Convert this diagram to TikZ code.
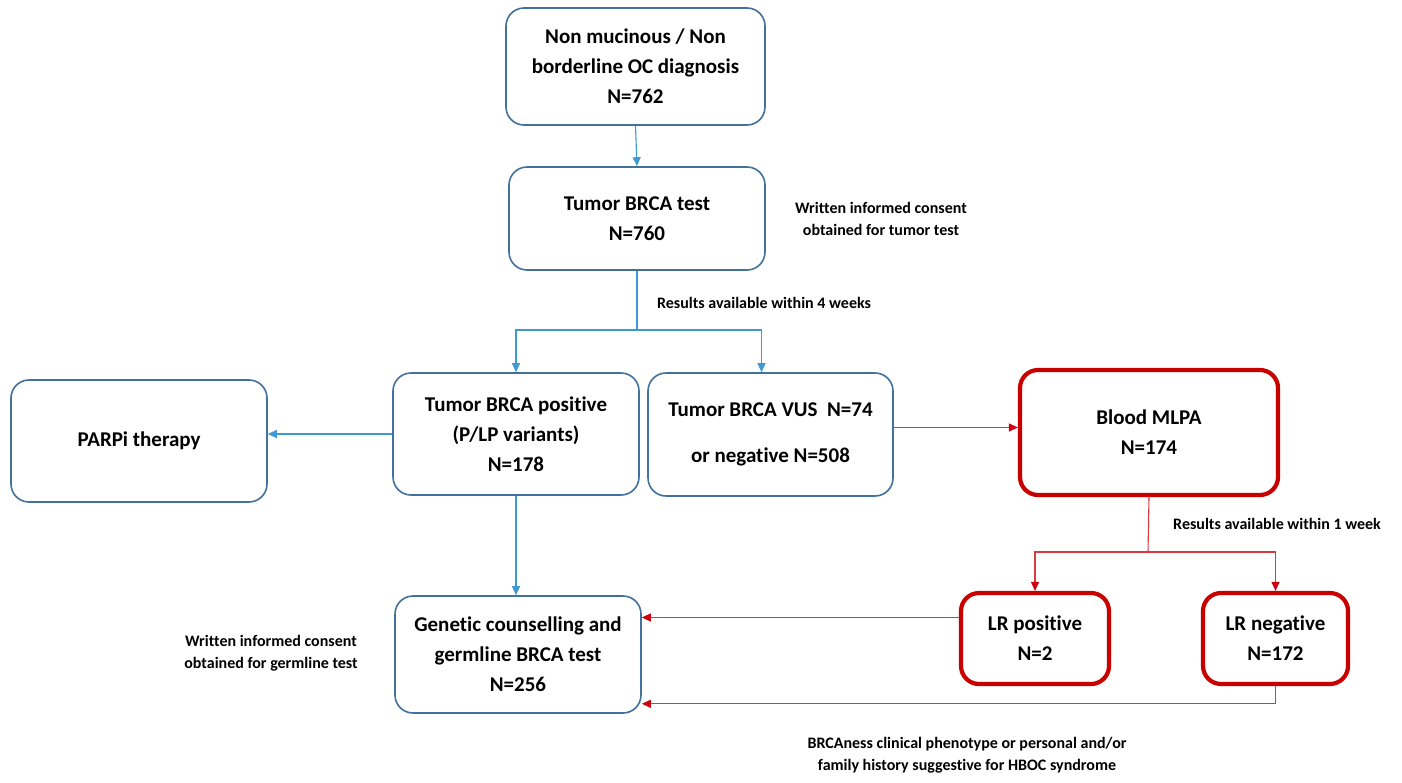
\documentclass[tikz,border=0pt]{standalone}
\usepackage{fontspec}
\setmainfont{Carlito}[Ligatures=NoCommon]
\usetikzlibrary{arrows.meta,calc}
\definecolor{boxblue}{HTML}{41719C}
\definecolor{arrblue}{HTML}{3D9AD6}
\definecolor{boxred}{HTML}{C80000}
\definecolor{linered}{HTML}{D83A40}
\definecolor{tipred}{HTML}{D00010}
\begin{document}
\begin{tikzpicture}[x=1pt,y=-1pt,
  bbox/.style={draw=boxblue,line width=1.6pt,rounded corners=18pt,fill=white,
    align=center,inner sep=0pt,font=\fontsize{21}{30}\selectfont\bfseries},
  rbox/.style={draw=boxred,line width=4.2pt,rounded corners=18pt,fill=white,
    align=center,inner sep=0pt,font=\fontsize{21}{30}\selectfont\bfseries},
  note/.style={align=center,inner sep=0pt,font=\fontsize{16}{22}\selectfont\bfseries},
  bl/.style={draw=arrblue,line width=1.1pt},
  rl/.style={draw=linered,line width=1.1pt},
  barr/.style={bl,-{Triangle[length=9pt,width=8pt,fill=arrblue]}},
  rarr/.style={rl,-{Triangle[length=9pt,width=8pt,fill=tipred,color=tipred]}}
]
\useasboundingbox[fill=white] (0,0) rectangle (1402,782);

\node[bbox,minimum width=259pt,minimum height=117pt] (n1) at (635.5,66.5)
  {Non mucinous / Non\\borderline OC diagnosis\\N=762};
\node[bbox,minimum width=256pt,minimum height=103pt] (n2) at (637,218.5)
  {Tumor BRCA test\\N=760};
\node[bbox,minimum width=246pt,minimum height=122pt] (pos) at (516,434)
  {Tumor BRCA positive\\(P/LP variants)\\N=178};
\node[bbox,minimum width=245pt,minimum height=123pt] (vus) at (770.5,434.5)
  {Tumor BRCA VUS\ \ N=74\\[16pt]or negative N=508};
\node[bbox,minimum width=256pt,minimum height=122pt] (parp) at (139,441)
  {PARPi therapy};
\node[rbox,minimum width=258pt,minimum height=125pt] (blood) at (1149,432.5)
  {Blood MLPA\\N=174};
\node[rbox,minimum width=148pt,minimum height=91pt] (lrp) at (1035,638.5)
  {LR positive\\N=2};
\node[rbox,minimum width=145pt,minimum height=91pt] (lrn) at (1275.5,638.5)
  {LR negative\\N=172};
\node[bbox,minimum width=246pt,minimum height=117pt] (germ) at (518,654.5)
  {Genetic counselling and\\germline BRCA test\\N=256};

\node[note] (t1) at (881,219) {Written informed consent\\obtained for tumor test};
\node[note] (t2) at (764,303) {Results available within 4 weeks};
\node[note] (t3) at (1277,524) {Results available within 1 week};
\node[note] (t4) at (271,653) {Written informed consent\\obtained for germline test};
\node[note] (t5) at (967,755) {BRCAness clinical phenotype or personal and/or\\family history suggestive for HBOC syndrome};

\coordinate (br1) at (637,330);
\coordinate (br2) at (1148,552);
\coordinate (vr) at ($(vus.north)+(-9,0)$);
\coordinate (ve) at ($(vus.east)+(0,-7)$);
\coordinate (lw) at ($(lrp.west)+(0,-21)$);
\coordinate (gb) at ($(germ.south east)+(0,-10)$);

\draw[barr] (n1.south) -- (n2.north);
\draw[bl] (n2.south) -- (br1);
\draw[barr] (br1) -| (pos.north);
\draw[barr] (br1) -| (vr);
\draw[barr] (pos.west) -- (pos.west -| parp.east);
\draw[barr] (pos.south) -- (pos.south |- germ.north);

\draw[rarr] (ve) -- (ve -| blood.west);
\draw[rl] (blood.south) -- (br2);
\draw[rarr] (br2) -| (lrp.north);
\draw[rarr] (br2) -| (lrn.north);
\draw[rarr] (lw) -- (lw -| germ.east);
\draw[rarr] (lrn.south) |- (gb);
\end{tikzpicture}
\end{document}
